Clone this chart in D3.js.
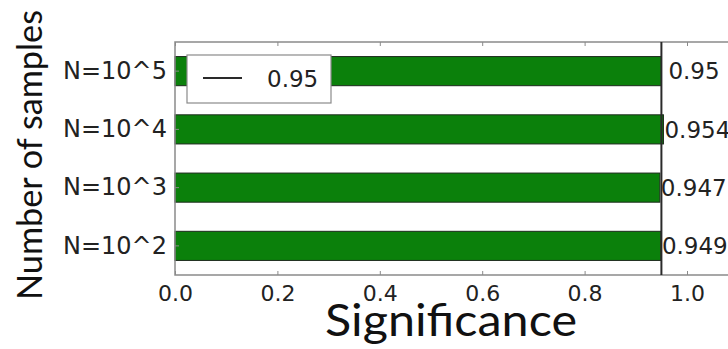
<!DOCTYPE html>
<html>
<head>
<meta charset="utf-8">
<script src="https://cdn.jsdelivr.net/npm/d3@7"></script>
<style>
  body { margin: 0; background: #fff; }
  svg { display: block; }
</style>
</head>
<body>
<svg id="chart" width="728" height="349"></svg>
<script>
// sample sizes, top to bottom
var categories = ["N=10^5", "N=10^4", "N=10^3", "N=10^2"];
var values = [0.95, 0.954, 0.947, 0.949];
var valueLabels = ["0.95", "0.954", "0.947", "0.949"];
var xTicks = [0.0, 0.2, 0.4, 0.6, 0.8, 1.0];
var refLine = 0.95;

var svg = d3.select("#chart");
var mpl = "DejaVu Sans, sans-serif";

var x = d3.scaleLinear()
	.domain([0, 1.2])
	.range([175, 789.4]);

var y = d3.scaleBand()
	.domain(categories)
	.range([42, 275])
	.paddingInner(0.5)
	.paddingOuter(0.25);

// bars
svg.append("g")
	.selectAll("rect")
	.data(values)
	.enter()
	.append("rect")
	.attr("x", x(0))
	.attr("y", function(d, i) { return y(categories[i]); })
	.attr("width", function(d) { return x(d) - x(0); })
	.attr("height", y.bandwidth())
	.attr("fill", "#0b800b")
	.attr("stroke", "#1c2a1c")
	.attr("stroke-width", 1);

// frame
svg.append("rect")
	.attr("x", x(0))
	.attr("y", 42)
	.attr("width", x(1.2) - x(0))
	.attr("height", 275 - 42)
	.attr("fill", "none")
	.attr("stroke", "#8a8a8a")
	.attr("stroke-width", 1.5);

// x axis (ticks inside)
var xAxis = svg.append("g")
	.attr("transform", "translate(0,275)")
	.call(d3.axisBottom(x).tickValues(xTicks).tickSize(-4).tickPadding(10)
		.tickFormat(d3.format(".1f")));
xAxis.select(".domain").remove();
xAxis.selectAll("line").attr("stroke", "#8a8a8a");
xAxis.selectAll("text")
	.attr("font-family", mpl)
	.attr("font-size", 22)
	.attr("fill", "#222");

var xTop = svg.append("g")
	.attr("transform", "translate(0,42)")
	.call(d3.axisTop(x).tickValues(xTicks).tickSize(-4).tickFormat(""));
xTop.select(".domain").remove();
xTop.selectAll("line").attr("stroke", "#8a8a8a");

// y axis
var yAxis = svg.append("g")
	.attr("transform", "translate(" + x(0) + ",0)")
	.call(d3.axisLeft(y).tickSize(-4).tickPadding(8));
yAxis.select(".domain").remove();
yAxis.selectAll("line").attr("stroke", "#8a8a8a");
yAxis.selectAll("text")
	.attr("font-family", mpl)
	.attr("font-size", 24)
	.attr("fill", "#222");

// reference line
svg.append("line")
	.attr("x1", x(refLine))
	.attr("x2", x(refLine))
	.attr("y1", 42)
	.attr("y2", 275)
	.attr("stroke", "#2a2a2a")
	.attr("stroke-width", 2);

// value labels
svg.append("g")
	.selectAll("text")
	.data(values)
	.enter()
	.append("text")
	.attr("x", function(d, i) { return x(d) + (valueLabels[i].length < 5 ? 7 : 1); })
	.attr("y", function(d, i) { return y(categories[i]) + y.bandwidth() / 2; })
	.attr("dy", "0.36em")
	.attr("font-family", mpl)
	.attr("font-size", 23)
	.attr("fill", "#222")
	.text(function(d, i) { return valueLabels[i]; });

// legend
var legend = svg.append("g");
legend.append("rect")
	.attr("x", 187)
	.attr("y", 55)
	.attr("width", 144)
	.attr("height", 48)
	.attr("fill", "#fff")
	.attr("stroke", "#8a8a8a")
	.attr("stroke-width", 1.2);
legend.append("line")
	.attr("x1", 203).attr("x2", 242)
	.attr("y1", 78).attr("y2", 78)
	.attr("stroke", "#2a2a2a")
	.attr("stroke-width", 2);
legend.append("text")
	.attr("x", 267)
	.attr("y", 79)
	.attr("dy", "0.36em")
	.attr("font-family", mpl)
	.attr("font-size", 23)
	.attr("fill", "#222")
	.text(String(refLine));

// axis titles
svg.append("text")
	.attr("transform", "translate(42,155) rotate(-90)")
	.attr("text-anchor", "middle")
	.attr("font-family", "Lato, sans-serif")
	.attr("font-size", 34)
	.attr("textLength", 290)
	.attr("lengthAdjust", "spacingAndGlyphs")
	.attr("fill", "#111")
	.text("Number of samples");

svg.append("text")
	.attr("x", 451)
	.attr("y", 336)
	.attr("text-anchor", "middle")
	.attr("font-family", "Lato, sans-serif")
	.attr("font-size", 44)
	.attr("textLength", 252)
	.attr("lengthAdjust", "spacingAndGlyphs")
	.attr("fill", "#111")
	.text("Significance");
</script>
</body>
</html>
